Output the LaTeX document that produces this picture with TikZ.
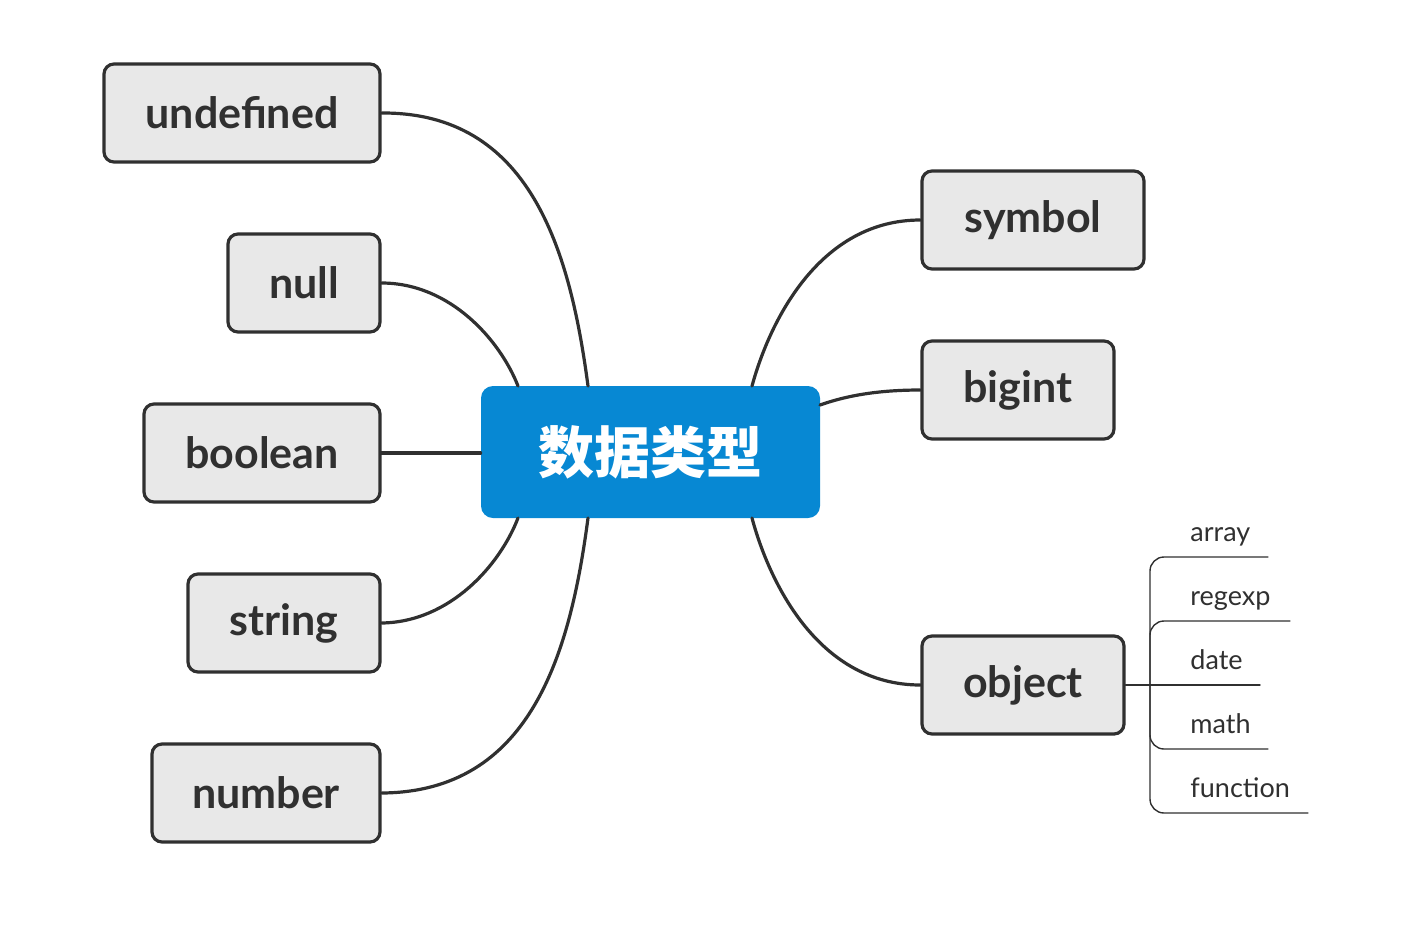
\documentclass[tikz,border=0pt]{standalone}
\usepackage{fontspec}
\setmainfont{Lato}
\newfontfamily\cjk{Noto Sans CJK SC}
\definecolor{boxfill}{HTML}{E8E8E8}
\definecolor{boxline}{HTML}{303030}
\definecolor{rootblue}{HTML}{0788D3}
\begin{document}
\begin{tikzpicture}[x=0.5pt,y=-0.5pt,line join=round,line cap=round]
\tikzset{type box/.style={draw=boxline,fill=boxfill,line width=1.6pt,rounded corners=5pt,
    minimum height=49pt,inner sep=0pt,text=boxline,font=\fontsize{21.5}{24}\selectfont\bfseries},
  branch/.style={draw=boxline,line width=1.6pt},
  leaf/.style={draw=boxline,line width=0.7pt,rounded corners=7pt},
  leaf label/.style={anchor=base west,inner sep=0pt,text=boxline,font=\fontsize{13.5}{15}\selectfont}}
\useasboundingbox (0,0) rectangle (1418,928);
% center
\node[fill=rootblue,rounded corners=6pt,minimum width=169.5pt,minimum height=66pt,text=white,
  font=\cjk\fontsize{28}{30}\selectfont\bfseries] (root) at (650.5,452) {数据类型};
\coordinate (rtl) at (518,386);
\coordinate (rtr) at (588,386);
\coordinate (rbl) at (518,518);
\coordinate (rbr) at (588,518);
\coordinate (rsr) at (752,386);
\coordinate (rbs) at (752,518);
\coordinate (rbi) at (820,405);
% left types
\node[type box,minimum width=138pt] (undefined) at (242,113) {undefined};
\node[type box,minimum width=76pt] (null) at (304,283) {null};
\node[type box,minimum width=118pt] (boolean) at (262,453) {boolean};
\node[type box,minimum width=96pt] (string) at (284,623) {string};
\node[type box,minimum width=114pt] (number) at (266,793) {number};
% right types
\node[type box,minimum width=111pt] (symbol) at (1033,220) {symbol};
\node[type box,minimum width=96pt] (bigint) at (1018,390) {bigint};
\node[type box,minimum width=101pt] (object) at (1023,685) {object};

\draw[branch] (undefined.east) .. controls (530,112) and (570,250) .. (rtr);
\draw[branch] (null.east) .. controls (450,283) and (500,340) .. (rtl);
\draw[branch] (boolean.east) -- (boolean.east -| root.west);
\draw[branch] (string.east) .. controls (450,622) and (500,565) .. (rbl);
\draw[branch] (number.east) .. controls (530,792) and (570,655) .. (rbr);
\draw[branch] (symbol.west) .. controls (820,220) and (770,320) .. (rsr);
\draw[branch] (bigint.west) .. controls (870,390) and (840,398) .. (rbi);
\draw[branch] (object.west) .. controls (820,685) and (770,585) .. (rbs);

% object children
\coordinate (fork) at (1150,685);
\draw[branch,line width=1pt] (object.east) -- (fork);
\foreach \name/\y/\len in {array/557/1268,regexp/621/1290,math/749/1268,function/813/1308}{
  \draw[leaf] (fork) |- (\len,\y);
  \node[leaf label] (\name) at (1190,\y-16) {\name};
}
\draw[leaf] (fork) -- (1260,685);
\node[leaf label] (date) at (1190,669) {date};
\end{tikzpicture}
\end{document}
